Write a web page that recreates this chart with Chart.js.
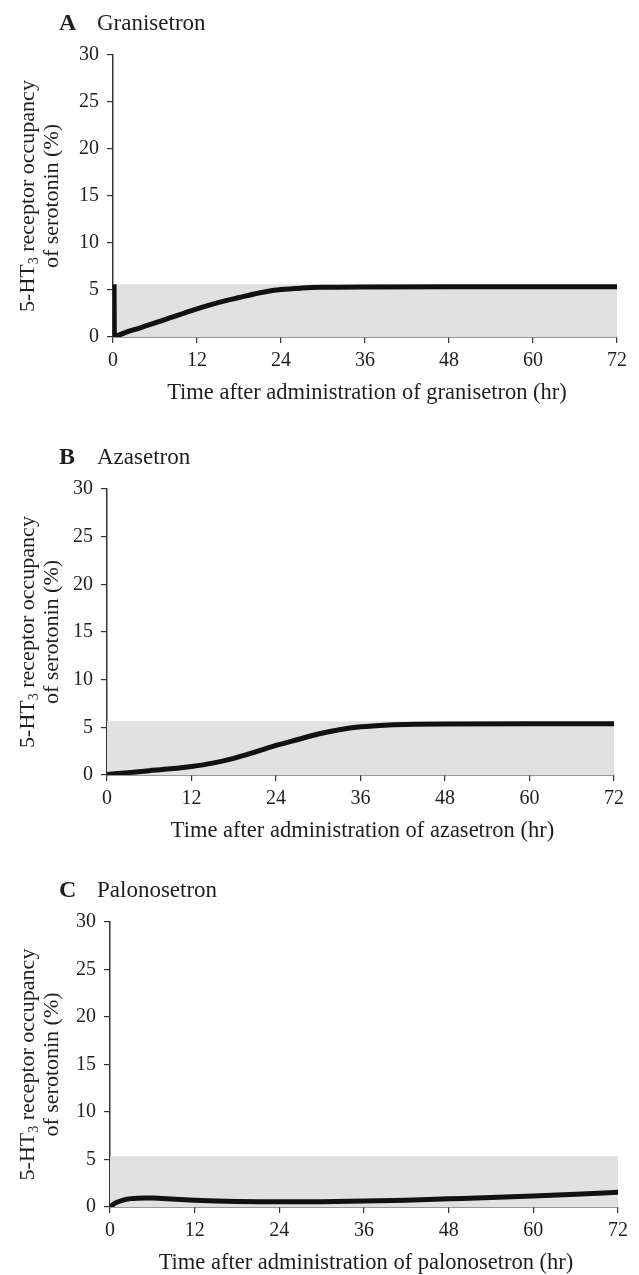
<!DOCTYPE html>
<html>
<head>
<meta charset="utf-8">
<script src="https://cdn.jsdelivr.net/npm/chart.js@4.4.1/dist/chart.umd.min.js"></script>
<style>
  body { margin: 0; background: #fff; width: 639px; height: 1275px; position: relative; overflow: hidden; }
  .panel { position: absolute; left: 0; width: 639px; height: 425px; }
</style>
</head>
<body>
<div class="panel" style="top:0"><canvas id="chartA" width="639" height="425"></canvas></div>
<div class="panel" style="top:434px"><canvas id="chartB" width="639" height="425"></canvas></div>
<div class="panel" style="top:869px"><canvas id="chartC" width="639" height="425"></canvas></div>
<script>
// tick labels
const xTicks = [0, 12, 24, 36, 48, 60, 72];
const yTicks = [0, 5, 10, 15, 20, 25, 30];

// A - granisetron (drops from baseline at t=0, then recovers)
const graniHours = [0.15, 0.2, 2, 4, 6, 8, 10, 12, 14, 16, 18, 20, 22, 24, 27, 30, 36, 48, 60, 72];
const graniOcc   = [5.6, 0.1, 0.55, 1.0, 1.5, 2.0, 2.5, 3.0, 3.45, 3.85, 4.2, 4.55, 4.85, 5.05, 5.2, 5.28, 5.33, 5.35, 5.35, 5.35];

// B - azasetron
const azaHours = [0, 3, 6, 9, 12, 15, 18, 21, 24, 27, 30, 33, 36, 40, 44, 48, 60, 72];
const azaOcc   = [0.05, 0.25, 0.45, 0.65, 0.9, 1.25, 1.75, 2.4, 3.1, 3.7, 4.3, 4.75, 5.05, 5.25, 5.33, 5.36, 5.37, 5.37];

// C - palonosetron
const paloHours = [0, 0.5, 1, 2, 3, 4, 5, 6, 8, 10, 12, 15, 18, 21, 24, 30, 36, 42, 48, 54, 60, 66, 72];
const paloOcc   = [0, 0.3, 0.5, 0.75, 0.88, 0.93, 0.95, 0.94, 0.88, 0.8, 0.72, 0.64, 0.58, 0.55, 0.54, 0.56, 0.62, 0.72, 0.86, 1.0, 1.16, 1.34, 1.55];

// upper edge of the grey shaded band per panel
const bandTop = [5.6, 5.65, 5.35];

const letters = ['A', 'B', 'C'];
const drugs = ['Granisetron', 'Azasetron', 'Palonosetron'];
const xTitles = [
  'Time after administration of granisetron (hr)',
  'Time after administration of azasetron (hr)',
  'Time after administration of palonosetron (hr)'
];

const serif = '"Liberation Serif", "Times New Roman", serif';
const ink = '#1e1e1e';

// panel letter, drug name and the axis titles
const panelText = {
  id: 'panelText',
  afterDraw(chart, args, o) {
    const { ctx, chartArea: a } = chart;
    ctx.save();
    ctx.fillStyle = ink;
    ctx.textBaseline = 'middle';
    ctx.textAlign = 'left';
    ctx.font = 'bold 24px ' + serif;
    ctx.fillText(o.letter, 59, a.top - 31);
    ctx.font = '23px ' + serif;
    ctx.fillText(o.drug, 97, a.top - 31);

    ctx.textAlign = 'center';
    ctx.font = '22.5px ' + serif;
    ctx.fillText(o.xTitle, (a.left + a.right) / 2 + 2, a.bottom + 56);

    // y title, rotated, with subscript 3
    ctx.translate(0, (a.top + a.bottom) / 2);
    ctx.rotate(-Math.PI / 2);
    ctx.textAlign = 'left';
    const p1 = '5-HT', p2 = '3', p3 = ' receptor occupancy';
    ctx.font = '22px ' + serif;
    const w1 = ctx.measureText(p1).width, w3 = ctx.measureText(p3).width;
    ctx.font = '14px ' + serif;
    const w2 = ctx.measureText(p2).width;
    let u = -(w1 + w2 + w3) / 2;
    ctx.font = '22px ' + serif;
    ctx.fillText(p1, u, 28);
    ctx.font = '14px ' + serif;
    ctx.fillText(p2, u + w1, 34);
    ctx.font = '22px ' + serif;
    ctx.fillText(p3, u + w1 + w2, 28);
    ctx.textAlign = 'center';
    ctx.fillText('of serotonin (%)', 0, 52);
    ctx.restore();
  }
};

function makePanel(id, hours, occ, band, idx, area) {
  const tickFont = { family: serif, size: 20 };
  new Chart(document.getElementById(id), {
    type: 'line',
    data: {
      datasets: [
        {
          data: hours.map((h, i) => ({ x: h, y: occ[i] })),
          borderColor: '#111',
          borderWidth: 5,
          pointRadius: 0,
          cubicInterpolationMode: 'monotone',
          fill: false,
          order: 1
        },
        {
          data: [{ x: xTicks[0], y: band }, { x: xTicks[xTicks.length - 1], y: band }],
          borderColor: 'rgba(0,0,0,0)',
          pointRadius: 0,
          fill: 'origin',
          backgroundColor: '#e1e1e1',
          order: 2
        }
      ]
    },
    options: {
      responsive: false,
      animation: false,
      layout: { padding: { top: area.top, right: 639 - area.right, left: 0, bottom: 0 } },
      plugins: {
        legend: { display: false },
        tooltip: { enabled: false },
        panelText: { letter: letters[idx], drug: drugs[idx], xTitle: xTitles[idx] }
      },
      scales: {
        x: {
          type: 'linear', min: 0, max: 72,
          afterBuildTicks: s => { s.ticks = xTicks.map(v => ({ value: v })); },
          afterFit: s => { s.height = 425 - area.bottom; },
          ticks: { font: tickFont, color: ink, padding: 6, maxRotation: 0 },
          grid: { drawOnChartArea: false, drawTicks: true, tickLength: 6, color: '#333', lineWidth: 1.2 },
          border: { color: '#333', width: 1.5 }
        },
        y: {
          min: 0, max: 30,
          afterBuildTicks: s => { s.ticks = yTicks.map(v => ({ value: v })); },
          afterFit: s => { s.width = area.left; },
          ticks: { font: tickFont, color: ink, padding: 8 },
          grid: { drawOnChartArea: false, drawTicks: true, tickLength: 6, color: '#333', lineWidth: 1.2 },
          border: { color: '#333', width: 1.5 }
        }
      }
    },
    plugins: [panelText]
  });
}

makePanel('chartA', graniHours, graniOcc, bandTop[0], 0, { left: 113, right: 617, top: 55, bottom: 337 });
makePanel('chartB', azaHours, azaOcc, bandTop[1], 1, { left: 107, right: 614, top: 55, bottom: 341 });
makePanel('chartC', paloHours, paloOcc, bandTop[2], 2, { left: 110, right: 618, top: 53, bottom: 338 });
</script>
</body>
</html>
